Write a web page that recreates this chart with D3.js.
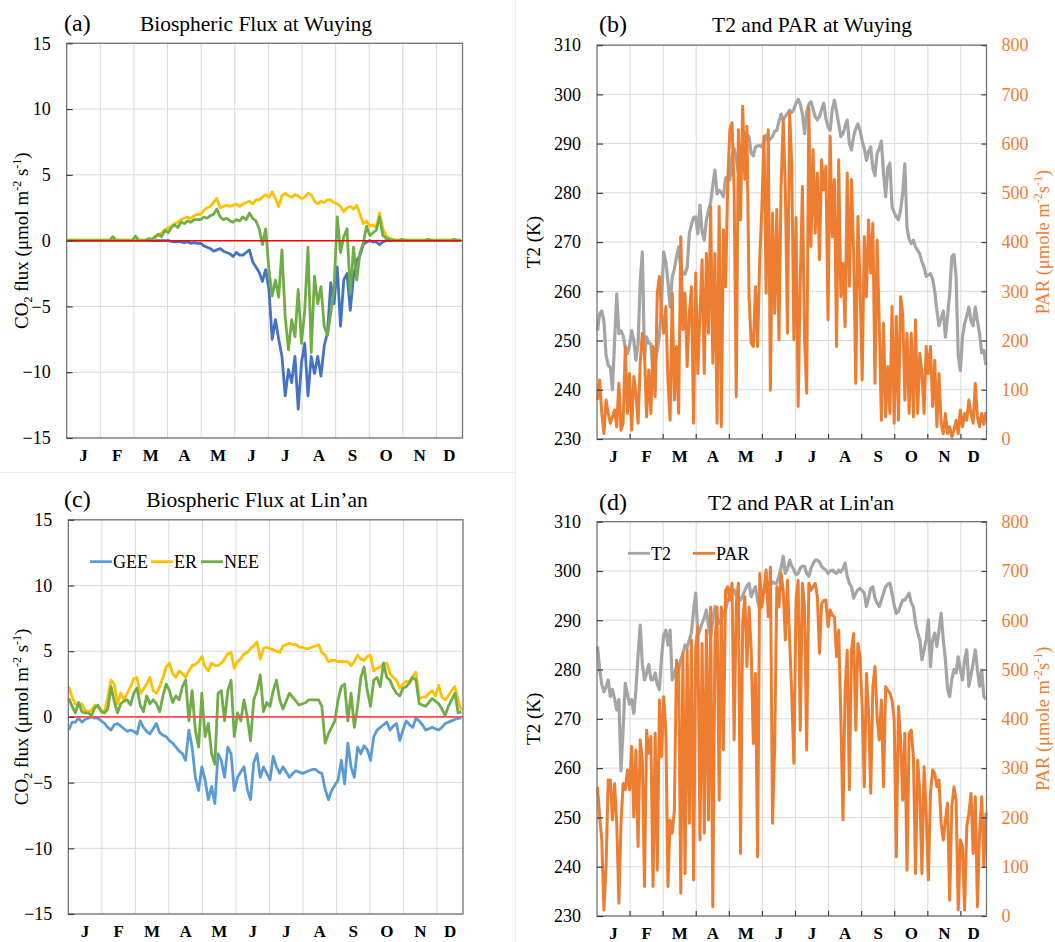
<!DOCTYPE html>
<html>
<head>
<meta charset="utf-8">
<script src="https://cdn.jsdelivr.net/npm/d3@7"></script>
<style>
body { margin: 0; background: #fff; }
svg text { font-family: "Liberation Serif", "Times New Roman", Times, serif; }
</style>
</head>
<body>
<div id="chart"></div>
<script>
var months = ["J", "F", "M", "A", "M", "J", "J", "A", "S", "O", "N", "D"];
var fluxTicks = [-15, -10, -5, 0, 5, 10, 15];
var t2Ticks = [230, 240, 250, 260, 270, 280, 290, 300, 310];
var parTicks = [0, 100, 200, 300, 400, 500, 600, 700, 800];

// flux series: one value every 3 days, met series: one value every 2 days
var fluxStep = 3;
var metStep = 2;

var wuyingGEE = [
  0,0,0,0,0,0,0,0,0,0, 0,0,0,0,0,0,0,0,0,0, 0,0,0,0,0,0,0,0,0,0,
  0,0,-0.05,-0.1,-0.05,-0.1,-0.15,-0.1,-0.2,-0.15,
  -0.2,-0.2,-0.4,-0.5,-0.6,-0.8,-0.7,-0.6,-0.8,-0.9,
  -1.0,-1.2,-0.9,-1.1,-1.1,-0.9,-0.7,-1.6,-2.0,-2.4,
  -3.1,-2.2,-3.7,-7.5,-6.0,-7.5,-8.8,-11.8,-9.8,-10.8,
  -8.8,-12.8,-9.3,-7.8,-11.8,-8.8,-10.1,-8.8,-10.3,-8.0,
  -7.0,-3.2,-4.8,-2.0,-6.5,-3.0,-2.5,-5.3,-2.7,-1.5,
  -1.1,-0.3,-0.1,0,-0.1,-0.1,-0.3,-0.1,0,0,
  0,0,0,0,0,0,0,0,0,0, 0,0,0,0,0,0,0,0,0,0, 0,0
];
var wuyingER = [
  0.05,0.05,0.05,0.05,0.05,0.05,0.05,0.05,0.05,0.05,
  0.05,0.05,0.05,0.05,0.05,0.05,0.05,0.05,0.05,0.05,
  0.05,0.05,0.05,0.05,0.05,0.05,0.1,0.2,0.4,0.6,
  0.8,1.0,1.1,1.3,1.4,1.6,1.7,1.8,1.7,1.9,
  2.0,2.0,2.3,2.5,2.6,2.9,3.2,2.5,2.6,2.7,
  2.6,2.7,2.8,2.6,2.8,2.9,3.0,2.8,3.1,3.1,
  3.3,3.5,3.3,3.7,3.2,2.6,3.4,3.6,3.4,3.3,
  3.5,3.4,3.2,3.3,3.6,3.5,3.0,2.8,3.0,2.9,
  3.1,3.1,2.9,2.8,2.6,2.2,2.5,2.6,2.4,2.7,
  2.0,1.3,1.5,1.1,1.2,1.0,2.1,0.9,0.4,0.2,
  0.1,0.05,0.05,0.05,0.05,0.05,0.05,0.05,0.05,0.05,
  0.05,0.05,0.05,0.05,0.05,0.05,0.05,0.05,0.05,0.05,
  0.05,0.05
];
var wuyingNEE = [
  0,0,0,0,0,0,0,0,0,0,
  0,0,0,0,0.3,0,0,0,0,0,
  0,0.35,0,0,0,0.15,0.1,0.3,0.5,0.3,
  0.8,0.6,1.0,1.2,1.0,1.4,1.3,1.5,1.4,1.6,
  1.6,1.6,1.8,1.7,1.9,2.0,2.4,1.8,1.6,1.7,
  1.5,1.4,1.6,1.5,1.8,1.6,2.1,1.7,1.5,0.9,
  -0.3,0.9,-2.2,-4.2,-3.0,-4.3,-0.7,-5.8,-8.3,-6.0,
  -7.3,-3.7,-7.8,-5.3,-0.5,-8.5,-2.7,-4.8,-3.5,-6.5,
  -7.2,-5.5,-3.7,1.8,-0.9,0.3,0.9,-4.0,-0.5,-3.0,
  -0.9,-0.2,1.1,0.4,0.6,0.8,1.8,0.4,0.2,0.1,
  0.05,0,0,0.1,0,0,0,0,0,0,
  0,0.1,0,0,0,0,0,0,0,0.1,
  0,0
];

var linanGEE = [
  -1.0,-0.4,-0.4,-0.1,-0.4,-0.2,-0.1,0,-0.1,-0.1,
  -0.3,-0.5,-0.8,-1.0,-0.6,-0.5,-0.7,-0.9,-1.1,-1.0,
  -1.1,-1.3,-0.3,-0.8,-1.1,-1.3,-0.9,-0.5,-1.2,-1.4,
  -1.5,-1.8,-2.0,-2.3,-2.6,-2.8,-3.3,-1.0,-2.3,-4.6,
  -5.6,-3.8,-4.8,-6.3,-5.3,-6.6,-2.8,-3.3,-4.6,-2.3,
  -2.8,-5.6,-4.6,-4.2,-3.8,-5.5,-6.3,-3.5,-2.8,-4.6,
  -3.8,-4.3,-4.8,-3.0,-3.8,-4.3,-3.8,-4.2,-4.6,-4.3,
  -4.1,-4.2,-4.3,-4.2,-4.1,-4.0,-4.0,-4.2,-4.3,-5.5,
  -6.3,-5.6,-5.2,-4.8,-3.3,-5.1,-2.0,-3.8,-4.6,-2.3,
  -2.8,-2.2,-2.5,-3.3,-1.5,-1.0,-0.8,-0.6,-0.4,-1.0,
  -0.7,-0.5,-1.8,-1.0,-0.3,-0.6,-0.8,-0.1,-0.3,-0.6,
  -1.0,-0.9,-0.8,-0.9,-1.0,-0.8,-0.5,-0.4,-0.3,-0.2,
  -0.1,-0.1
];
var linanER = [
  2.3,1.5,1.0,0.9,1.0,0.5,0.4,0.5,0.9,0.7,
  0.5,0.4,1.5,2.8,2.5,1.0,1.8,1.3,1.8,2.3,
  2.9,3.0,1.8,2.1,2.5,3.0,2.0,1.8,2.3,3.0,
  3.8,4.1,3.3,3.0,3.5,3.3,3.0,3.5,3.9,4.0,
  4.2,4.6,3.8,3.5,4.1,3.9,3.9,4.1,4.4,4.8,
  4.9,3.7,4.2,4.4,4.8,4.9,5.2,5.4,5.7,4.4,
  5.2,5.3,5.2,5.1,5.0,4.9,5.4,5.5,5.6,5.5,
  5.5,5.3,5.3,5.2,5.2,5.3,5.4,5.5,4.9,4.7,
  4.2,4.3,4.3,4.2,4.2,4.2,4.2,3.9,4.2,4.7,
  4.4,4.3,4.6,4.7,3.5,3.7,3.8,4.0,4.1,3.3,
  3.0,2.8,2.2,2.5,2.7,2.7,3.1,3.4,1.4,1.5,
  1.5,1.8,2.0,1.6,2.4,1.5,1.3,1.6,2.0,2.3,
  1.3,0.5
];
var linanNEE = [
  1.4,0.8,0.3,1.1,0.4,0.3,0.3,0.1,0.7,0.9,
  0.4,0.3,0.6,2.3,1.2,0.3,1.0,1.2,1.3,0.9,
  1.8,2.2,0.9,0.4,1.6,1.0,1.3,1.0,0.4,1.6,
  2.5,2.0,1.1,1.6,1.3,2.3,2.8,-0.3,2.0,-1.0,
  -2.3,1.8,-1.5,-0.5,-2.8,-3.6,1.8,2.0,-0.3,2.0,
  2.8,-1.5,0.3,-0.3,1.3,0.0,-1.8,1.3,2.0,3.2,
  0.4,1.1,0.8,2.0,2.8,1.3,0.6,1.2,1.8,1.5,
  1.2,0.9,1.0,1.1,1.3,1.3,1.3,1.3,0.8,-2.0,
  -1.3,-0.8,-0.3,1.3,2.3,2.5,-0.3,1.8,-0.8,0.8,
  3.0,3.8,2.0,0.8,2.8,3.0,2.3,4.1,3.0,2.8,
  2.2,1.8,1.6,2.2,2.3,2.6,3.0,2.8,1.0,0.9,
  0.8,1.1,1.4,1.2,1.0,0.6,0.1,0.8,1.3,1.8,
  0.3,0.4
];

var wuyingT2 = [
  252,255.5,256,254,247,245,244.5,240,250,259.5,
  251.4,252,251,248.6,247.3,249,252,250,246,249.3,
  262,268,246.6,250.7,249.5,249.3,243.2,246,248,251,
  258,268,266,262,256.8,262.9,264.5,267,269,264.9,
  263.5,263.5,264.9,271.7,273.5,275,275.1,271.7,277.5,272,
  270.4,274.4,276.5,278,281.5,284.6,279.8,280.5,280,279.2,
  283,283.2,282.6,287.3,289,287,284,288,290.5,292,
  291.8,291.4,288,287.5,289.3,289.5,289.6,289.3,290.5,291.7,
  290.5,291,291.4,292.5,292.7,294.5,296,294.8,295.5,296.1,
  296.8,296.3,297,298.2,299,298,296,292,296.5,298,
  298.5,297,295.5,294.8,295.5,297,298.2,295,293.4,292.7,
  297,298.8,296.5,294,291.4,292,293.5,294.8,290,288.7,
  291.5,293,294,292.7,290.5,289,286.6,288.5,289.3,285,
  283.5,288,289,290.5,284,279.2,285,286,277.1,276,
  275.1,274.5,276.5,280,285.9,273,270.5,269.7,270.4,269,
  268.3,267.6,266,264.9,263,263.3,263.6,262.5,260,256.1,
  253,254.5,256,250.7,255,259.5,267,267.5,263,247,
  243.9,250.7,253.4,255,256.8,254,253,256.8,254,251.4,
  247.5,248,245
];
var wuyingPAR = [
  79,120,52,11,79,52,32,45,59,25,
  113,18,32,188,52,133,18,127,93,32,
  154,215,174,45,140,52,188,86,296,330,
  255,215,269,120,38,296,79,188,52,411,
  222,296,147,255,309,32,337,133,255,364,
  133,377,215,472,154,377,32,472,25,425,
  309,520,628,642,506,86,628,445,676,527,
  635,289,194,188,309,188,364,472,615,296,
  628,99,459,255,466,201,513,649,506,215,
  662,560,201,450,66,323,513,201,93,672,
  391,588,418,540,364,567,506,554,242,615,
  411,527,188,567,289,357,228,540,310,527,
  377,113,452,310,120,411,289,445,337,438,
  113,404,235,38,235,45,147,52,269,32,
  249,38,289,255,79,215,52,215,45,242,
  52,174,133,52,188,133,188,66,160,25,
  133,32,11,52,11,25,4,18,38,11,
  59,25,52,38,79,52,32,113,45,25,
  52,30,55
];

var linanT2 = [
  284.7,280,277,275.5,276.5,277.9,274.5,276,274,271.8,
  273.9,259.5,268,277.2,275,273,273.9,271.1,276,283,
  289,281,277.9,279.3,281,278,277.9,279.3,277,275.9,
  282.6,287,288,285,288,277.9,279,280.6,280,282,
  283.3,285,284.5,286,287.5,292,295.5,287,288,289.4,
  290.5,292.1,289,286.7,290,292.8,291,289.4,290,291.5,
  292.1,294,295,295.5,296.2,295,294.5,294.1,295,296,
  297,297.5,294.8,296,296.8,294,292.1,295,296.2,295.8,
  295.5,297,297.8,297.5,297.5,299,300.6,303,299.5,300.5,
  302.2,301,300.2,299.2,299.5,300.6,301,300.9,299.5,298.9,
  300.5,301.5,302.2,302.2,301.8,300.9,300.5,300.2,299.5,300,
  300.2,299.8,299.5,300.2,299.8,300.5,301.6,298.9,297.5,296.8,
  294.5,295.5,296.2,296.5,296,295.5,292.8,294.5,296.5,296.8,
  294.5,293.5,292.8,294.1,295.5,296.8,297.3,297.5,295.5,293,
  291.4,291.8,293,294.1,294.1,294.8,295.5,293.5,292.8,289.4,
  287.5,286,282,284,286,290.1,280.6,286,287.4,284.7,
  288,291.4,286,282,276,274.5,278,280,279.3,282.6,
  280,277.9,282,284,276.6,279,281.3,284,280,276.6,
  279.9,274.5,274
];
var linanPAR = [
  262,201,154,12,100,276,276,195,269,188,
  26,188,269,256,296,256,344,201,337,141,
  357,316,60,377,330,364,60,371,93,438,
  323,445,377,60,195,168,215,519,506,46,
  533,86,540,188,560,73,546,587,154,553,
  168,580,195,627,19,553,627,235,627,337,
  661,668,641,675,357,634,675,127,593,648,
  506,627,540,350,492,120,695,627,661,702,
  607,708,188,344,668,627,695,661,560,681,
  560,450,310,641,681,377,675,627,337,675,
  661,668,675,648,533,634,640,641,587,621,
  610,607,526,580,404,195,458,539,256,539,
  573,377,553,526,425,262,492,411,249,465,
  506,404,357,438,262,465,458,452,438,398,
  120,425,357,235,371,93,371,377,323,86,
  316,249,86,303,208,73,249,296,289,262,
  276,188,154,195,229,32,222,262,235,12,
  154,141,12,181,208,249,127,242,19,168,
  242,100,210
];

var svg = d3.select("#chart").append("svg")
  .attr("width", 1055).attr("height", 942);

// faint chart-area borders of the left column
svg.append("line").attr("x1", 0).attr("x2", 515).attr("y1", 472.5).attr("y2", 472.5)
  .attr("stroke", "#efefef");
svg.append("line").attr("x1", 515.5).attr("x2", 515.5).attr("y1", 0).attr("y2", 942)
  .attr("stroke", "#efefef");

function grid(g, x, y, ticks) {
  g.append("g").selectAll("line").data(ticks).enter().append("line")
    .attr("x1", x(0)).attr("x2", x(365))
    .attr("y1", function(d) { return y(d); }).attr("y2", function(d) { return y(d); })
    .attr("stroke", "#d9d9d9");
  g.append("g").selectAll("line").data(d3.range(31, 365, 31)).enter().append("line")
    .attr("x1", function(d) { return x(d); }).attr("x2", function(d) { return x(d); })
    .attr("y1", y.range()[0]).attr("y2", y.range()[1])
    .attr("stroke", "#d9d9d9");
}

function series(g, x, y, values, step, color, width) {
  var line = d3.line()
    .x(function(d, i) { return x(i * step + 0.5); })
    .y(function(d) { return y(d); });
  g.append("path").datum(values)
    .attr("d", line)
    .attr("fill", "none")
    .attr("stroke", color)
    .attr("stroke-width", width)
    .attr("stroke-linejoin", "round");
}

function border(g, x, y) {
  g.append("rect")
    .attr("x", x(0)).attr("y", y.range()[1])
    .attr("width", x(365) - x(0)).attr("height", y.range()[0] - y.range()[1])
    .attr("fill", "none").attr("stroke", "#767676").attr("stroke-width", 1.3);
}

function valueAxis(g, axis, xPos, color) {
  var a = g.append("g").attr("transform", "translate(" + xPos + ",0)").call(axis);
  a.select(".domain").remove();
  a.attr("font-family", null).attr("font-size", 18);
  a.selectAll(".tick line").attr("stroke", "#404040").attr("stroke-width", 1.2);
  a.selectAll(".tick text").attr("fill", color);
}

function monthAxis(g, x, yBase, tickY) {
  g.append("g").selectAll("text").data(months).enter().append("text")
    .attr("x", function(d, i) { return (x(i * 31) + x(Math.min(i * 31 + 31, 365))) / 2; })
    .attr("y", yBase)
    .attr("text-anchor", "middle")
    .attr("font-weight", "bold")
    .attr("font-size", 17)
    .text(function(d) { return d; });
  if (tickY) {
    g.append("g").selectAll("line").data(d3.range(31, 365, 31)).enter().append("line")
      .attr("x1", function(d) { return x(d); }).attr("x2", function(d) { return x(d); })
      .attr("y1", tickY).attr("y2", tickY - 5)
      .attr("stroke", "#404040").attr("stroke-width", 1.2);
  }
}

function titles(g, letter, lx, title, tx, by) {
  g.append("text").attr("x", lx).attr("y", by).attr("font-size", 24).text(letter);
  g.append("text").attr("x", tx).attr("y", by)
    .attr("text-anchor", "middle").attr("font-size", 21.5).text(title);
}

function yTitle(g, cx, cy, parts, color) {
  var t = g.append("text")
    .attr("transform", "translate(" + cx + "," + cy + ") rotate(-90)")
    .attr("text-anchor", "middle")
    .attr("font-size", 19)
    .attr("fill", color);
  parts.forEach(function(p) {
    t.append("tspan").attr("dy", p[1]).attr("font-size", p[2]).text(p[0]);
  });
}

var co2Parts = [["CO", 0, 19], ["2", 4, 12], [" flux (\u03bcmol m", -4, 19], ["-2", -7, 12],
  [" s", 7, 19], ["-1", -7, 12], [")", 7, 19]];
var parParts = [["PAR (\u03bcmole m", 0, 18.5], ["-2", -7, 12], ["s", 7, 18.5], ["-1", -7, 12], [")", 7, 18.5]];

function fluxPanel(o) {
  var g = svg.append("g");
  var x = d3.scaleLinear().domain([0, 365]).range([o.x0, o.x1]);
  var y = d3.scaleLinear().domain([-15, 15]).range([o.yBot, o.yTop]);
  grid(g, x, y, fluxTicks);
  series(g, x, y, o.gee, fluxStep, o.geeColor, 2.8);
  series(g, x, y, o.er, fluxStep, "#FFC000", 2.8);
  series(g, x, y, o.nee, fluxStep, "#70AD47", 2.8);
  g.append("line")
    .attr("x1", x(0)).attr("x2", x(365)).attr("y1", y(0)).attr("y2", y(0))
    .attr("stroke", o.zeroColor).attr("stroke-width", o.zeroWidth);
  border(g, x, y);
  valueAxis(g, d3.axisLeft(y).tickValues(fluxTicks).tickSize(-6).tickPadding(16), o.x0, "#000");
  monthAxis(g, x, o.yBot + 23, null);
  titles(g, o.letter, 64, o.title, o.titleX, o.titleY);
  yTitle(g, 28, (o.yTop + o.yBot) / 2, co2Parts, "#000");
  return { g: g, x: x, y: y };
}

function metPanel(o) {
  var g = svg.append("g");
  var x = d3.scaleLinear().domain([0, 365]).range([o.x0, o.x1]);
  var yT = d3.scaleLinear().domain([230, 310]).range([o.yBot, o.yTop]);
  var yP = d3.scaleLinear().domain([0, 800]).range([o.yBot, o.yTop]);
  grid(g, x, yT, t2Ticks);
  series(g, x, yT, o.t2, metStep, "#A5A5A5", 3.2);
  series(g, x, yP, o.par, metStep, "#ED7D31", 3);
  border(g, x, yT);
  valueAxis(g, d3.axisLeft(yT).tickValues(t2Ticks).tickSize(-6).tickPadding(16), o.x0, "#000");
  valueAxis(g, d3.axisRight(yP).tickValues(parTicks).tickSize(-5).tickPadding(15), o.x1, "#ED7D31");
  monthAxis(g, x, o.yBot + 23, o.yBot);
  titles(g, o.letter, 599, o.title, o.titleX, o.titleY);
  yTitle(g, 540, (o.yTop + o.yBot) / 2, [["T2 (K)", 0, 19]], "#000");
  yTitle(g, 1049, (o.yTop + o.yBot) / 2, parParts, "#ED7D31");
  return { g: g, x: x, y: yT };
}

fluxPanel({
  x0: 66.7, x1: 462.5, yTop: 43.3, yBot: 438,
  gee: wuyingGEE, er: wuyingER, nee: wuyingNEE, geeColor: "#4472C4",
  zeroColor: "#FF0000", zeroWidth: 1.5,
  letter: "(a)", title: "Biospheric Flux at Wuying", titleX: 256, titleY: 31
});

var c = fluxPanel({
  x0: 68.3, x1: 463, yTop: 519.8, yBot: 914,
  gee: linanGEE, er: linanER, nee: linanNEE, geeColor: "#5B9BD5",
  zeroColor: "#FF4D4D", zeroWidth: 1.8,
  letter: "(c)", title: "Biospheric Flux at Lin\u2019an", titleX: 257, titleY: 507
});

metPanel({
  x0: 597, x1: 986.5, yTop: 45.1, yBot: 439,
  t2: wuyingT2, par: wuyingPAR,
  letter: "(b)", title: "T2 and PAR at Wuying", titleX: 812, titleY: 32
});

var d = metPanel({
  x0: 597, x1: 986.5, yTop: 521.7, yBot: 916,
  t2: linanT2, par: linanPAR,
  letter: "(d)", title: "T2 and PAR at Lin'an", titleX: 801, titleY: 510
});

// legends
function legend(g, items, yMid) {
  items.forEach(function(it) {
    g.append("line")
      .attr("x1", it.lx).attr("x2", it.lx + 22).attr("y1", yMid).attr("y2", yMid)
      .attr("stroke", it.color).attr("stroke-width", 2.8);
    g.append("text")
      .attr("x", it.lx + 23).attr("y", yMid).attr("dy", "0.35em")
      .attr("font-size", 18).text(it.name);
  });
}

legend(c.g, [
  { name: "GEE", color: "#5B9BD5", lx: 90 },
  { name: "ER", color: "#FFC000", lx: 151 },
  { name: "NEE", color: "#70AD47", lx: 201 }
], 561.7);

legend(d.g, [
  { name: "T2", color: "#A5A5A5", lx: 628 },
  { name: "PAR", color: "#ED7D31", lx: 693 }
], 553.3);
</script>
</body>
</html>
